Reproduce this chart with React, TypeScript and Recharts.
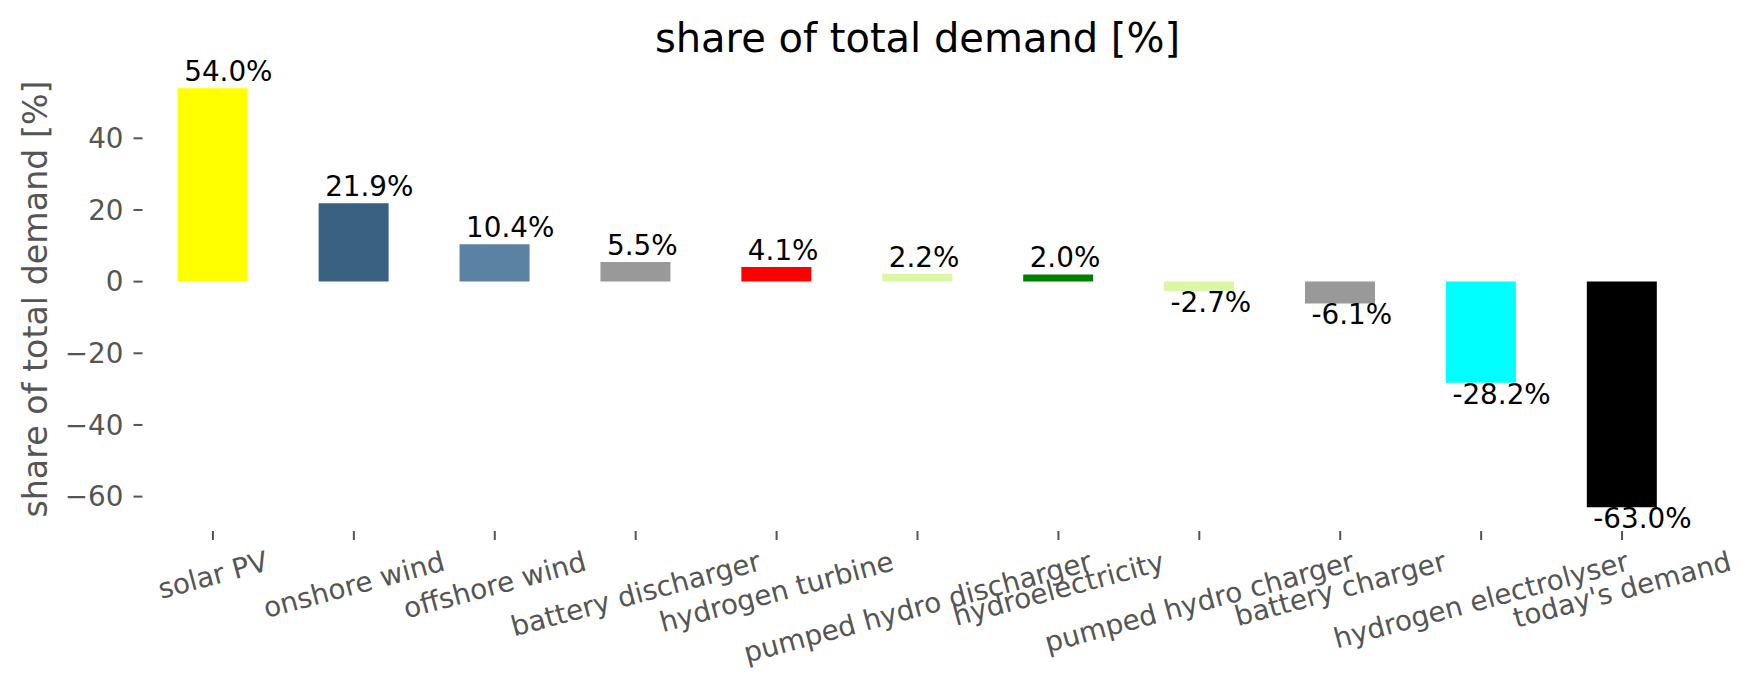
import React from 'react';
import { BarChart, Bar, XAxis, YAxis, Cell, LabelList } from 'recharts';

const categories = [
  'solar PV',
  'onshore wind',
  'offshore wind',
  'battery discharger',
  'hydrogen turbine',
  'pumped hydro discharger',
  'hydroelectricity',
  'pumped hydro charger',
  'battery charger',
  'hydrogen electrolyser',
  "today's demand",
];
const values = [54.0, 21.9, 10.4, 5.5, 4.1, 2.2, 2.0, -2.7, -6.1, -28.2, -63.0];
const colors = [
  '#ffff00',
  '#3b6182',
  '#5b82a3',
  '#999999',
  '#ff0000',
  '#daf7a6',
  '#008000',
  '#daf7a6',
  '#999999',
  '#00ffff',
  '#000000',
];
const yTicks = [-60, -40, -20, 0, 20, 40];

const data = categories.map((name, i) => ({ name, value: values[i], color: colors[i] }));

const FONT = '"DejaVu Sans", sans-serif';
const FS = 27.8;
const W = 1753;
const H = 689;
const MARGIN = { top: 67, right: 60.5, bottom: 8, left: 2.5 };
const YAXIS_W = 140;
const XAXIS_H = 150;

let canvasCtx: CanvasRenderingContext2D | null = null;
function measure(text: string): number {
  if (!canvasCtx) {
    const c = document.createElement('canvas');
    canvasCtx = c.getContext('2d');
  }
  if (!canvasCtx) return text.length * FS * 0.6;
  canvasCtx.font = `${FS}px "DejaVu Sans"`;
  return canvasCtx.measureText(text).width;
}

const XTick = (props: any) => {
  const { x, y, payload } = props;
  const text = String(payload.value);
  const w = measure(text);
  const ang = (15 * Math.PI) / 180;
  const lineH = FS * 1.164;
  const bboxH = w * Math.sin(ang) + lineH * Math.cos(ang);
  const top = y + 3;
  const cy = top + bboxH / 2;
  const cx = x;
  return (
    <text
      x={cx}
      y={cy + 0.346 * FS}
      textAnchor="middle"
      fill="#555555"
      fontSize={FS}
      fontFamily={FONT}
      transform={`rotate(-15, ${cx}, ${cy})`}
    >
      {text}
    </text>
  );
};

const ValueLabel = (props: any) => {
  const { x, y, width, height, value } = props;
  const top = Math.min(y, y + height);
  const bottom = Math.max(y, y + height);
  const tx = x + 6.5;
  const ty = value >= 0 ? top - 7 : bottom + 21;
  return (
    <text x={tx} y={ty} fill="#000000" fontSize={FS} fontFamily={FONT} textAnchor="start">
      {`${Number(value).toFixed(1)}%`}
    </text>
  );
};

export default function App() {
  return (
    <div style={{ position: 'absolute', left: 0, top: 0, width: W, height: H, background: '#ffffff' }}>
      <BarChart
        width={W}
        height={H}
        data={data}
        margin={MARGIN}
        barCategoryGap="25%"
      >
        <XAxis
          dataKey="name"
          interval={0}
          height={XAXIS_H}
          axisLine={false}
          tickLine={{ stroke: '#555555', strokeWidth: 2 }}
          tickSize={9}
          tick={<XTick />}
        />
        <YAxis
          width={YAXIS_W}
          domain={[-69.6, 59.9]}
          ticks={yTicks}
          axisLine={false}
          tickLine={{ stroke: '#555555', strokeWidth: 2 }}
          tickSize={9}
          tickMargin={10}
          tick={{ fill: '#555555', fontSize: FS, fontFamily: FONT }}
          tickFormatter={(v: number) => String(v).replace('-', '\u2212')}
        />
        <Bar dataKey="value" isAnimationActive={false}>
          {data.map((d, i) => (
            <Cell key={i} fill={d.color} />
          ))}
          <LabelList dataKey="value" content={<ValueLabel />} />
        </Bar>
      </BarChart>
      <svg
        width={W}
        height={H}
        style={{ position: 'absolute', left: 0, top: 0, pointerEvents: 'none' }}
      >
        <text x={917.5} y={52} textAnchor="middle" fontSize={40} fontFamily={FONT} fill="#000000">
          share of total demand [%]
        </text>
        <text
          x={47}
          y={299}
          textAnchor="middle"
          fontSize={33.3}
          fontFamily={FONT}
          fill="#555555"
          transform="rotate(-90, 47, 299)"
        >
          share of total demand [%]
        </text>
      </svg>
    </div>
  );
}
